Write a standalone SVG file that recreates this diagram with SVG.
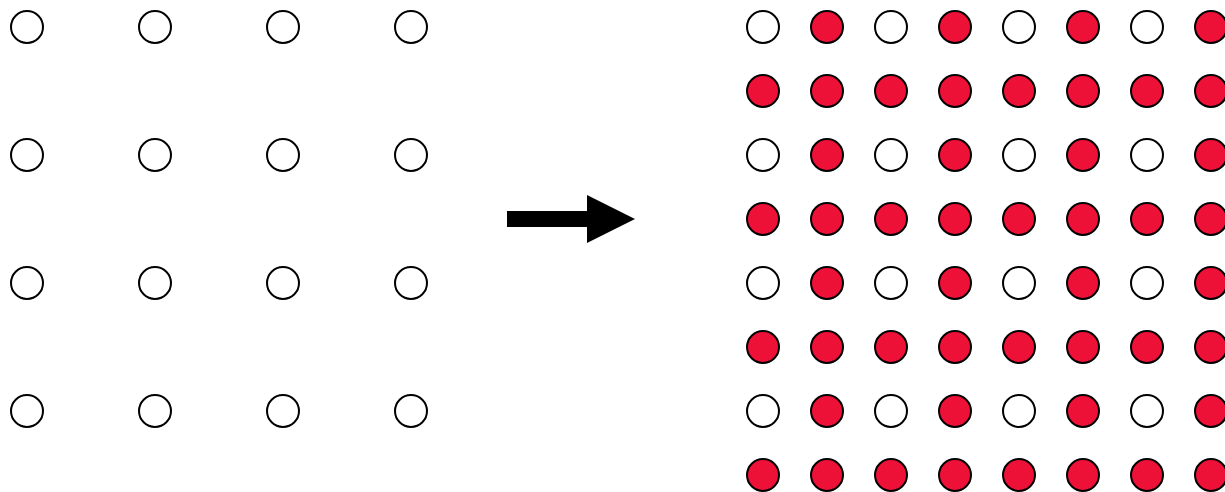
<svg xmlns="http://www.w3.org/2000/svg" width="1225" height="492" viewBox="0 0 1225 492">
<style>
.o{fill:#ffffff;stroke:#000000;stroke-width:2}
.r{fill:#ee1137;stroke:#000000;stroke-width:2}
</style>
<rect width="1225" height="492" fill="#ffffff"/>
<g id="left">
<circle class="o" cx="27" cy="27" r="16"/><circle class="o" cx="155" cy="27" r="16"/><circle class="o" cx="283" cy="27" r="16"/><circle class="o" cx="411" cy="27" r="16"/>
<circle class="o" cx="27" cy="155" r="16"/><circle class="o" cx="155" cy="155" r="16"/><circle class="o" cx="283" cy="155" r="16"/><circle class="o" cx="411" cy="155" r="16"/>
<circle class="o" cx="27" cy="283" r="16"/><circle class="o" cx="155" cy="283" r="16"/><circle class="o" cx="283" cy="283" r="16"/><circle class="o" cx="411" cy="283" r="16"/>
<circle class="o" cx="27" cy="411" r="16"/><circle class="o" cx="155" cy="411" r="16"/><circle class="o" cx="283" cy="411" r="16"/><circle class="o" cx="411" cy="411" r="16"/>
</g>
<g id="connectors">
<path d="M507,211 H587 V195 L635,219 L587,243 V227 H507 Z" fill="#000000"/>
</g>
<g id="right">
<circle class="o" cx="763" cy="27" r="16"/><circle class="r" cx="827" cy="27" r="16"/><circle class="o" cx="891" cy="27" r="16"/><circle class="r" cx="955" cy="27" r="16"/><circle class="o" cx="1019" cy="27" r="16"/><circle class="r" cx="1083" cy="27" r="16"/><circle class="o" cx="1147" cy="27" r="16"/><circle class="r" cx="1211" cy="27" r="16"/>
<circle class="r" cx="763" cy="91" r="16"/><circle class="r" cx="827" cy="91" r="16"/><circle class="r" cx="891" cy="91" r="16"/><circle class="r" cx="955" cy="91" r="16"/><circle class="r" cx="1019" cy="91" r="16"/><circle class="r" cx="1083" cy="91" r="16"/><circle class="r" cx="1147" cy="91" r="16"/><circle class="r" cx="1211" cy="91" r="16"/>
<circle class="o" cx="763" cy="155" r="16"/><circle class="r" cx="827" cy="155" r="16"/><circle class="o" cx="891" cy="155" r="16"/><circle class="r" cx="955" cy="155" r="16"/><circle class="o" cx="1019" cy="155" r="16"/><circle class="r" cx="1083" cy="155" r="16"/><circle class="o" cx="1147" cy="155" r="16"/><circle class="r" cx="1211" cy="155" r="16"/>
<circle class="r" cx="763" cy="219" r="16"/><circle class="r" cx="827" cy="219" r="16"/><circle class="r" cx="891" cy="219" r="16"/><circle class="r" cx="955" cy="219" r="16"/><circle class="r" cx="1019" cy="219" r="16"/><circle class="r" cx="1083" cy="219" r="16"/><circle class="r" cx="1147" cy="219" r="16"/><circle class="r" cx="1211" cy="219" r="16"/>
<circle class="o" cx="763" cy="283" r="16"/><circle class="r" cx="827" cy="283" r="16"/><circle class="o" cx="891" cy="283" r="16"/><circle class="r" cx="955" cy="283" r="16"/><circle class="o" cx="1019" cy="283" r="16"/><circle class="r" cx="1083" cy="283" r="16"/><circle class="o" cx="1147" cy="283" r="16"/><circle class="r" cx="1211" cy="283" r="16"/>
<circle class="r" cx="763" cy="347" r="16"/><circle class="r" cx="827" cy="347" r="16"/><circle class="r" cx="891" cy="347" r="16"/><circle class="r" cx="955" cy="347" r="16"/><circle class="r" cx="1019" cy="347" r="16"/><circle class="r" cx="1083" cy="347" r="16"/><circle class="r" cx="1147" cy="347" r="16"/><circle class="r" cx="1211" cy="347" r="16"/>
<circle class="o" cx="763" cy="411" r="16"/><circle class="r" cx="827" cy="411" r="16"/><circle class="o" cx="891" cy="411" r="16"/><circle class="r" cx="955" cy="411" r="16"/><circle class="o" cx="1019" cy="411" r="16"/><circle class="r" cx="1083" cy="411" r="16"/><circle class="o" cx="1147" cy="411" r="16"/><circle class="r" cx="1211" cy="411" r="16"/>
<circle class="r" cx="763" cy="475" r="16"/><circle class="r" cx="827" cy="475" r="16"/><circle class="r" cx="891" cy="475" r="16"/><circle class="r" cx="955" cy="475" r="16"/><circle class="r" cx="1019" cy="475" r="16"/><circle class="r" cx="1083" cy="475" r="16"/><circle class="r" cx="1147" cy="475" r="16"/><circle class="r" cx="1211" cy="475" r="16"/>
</g>
</svg>
